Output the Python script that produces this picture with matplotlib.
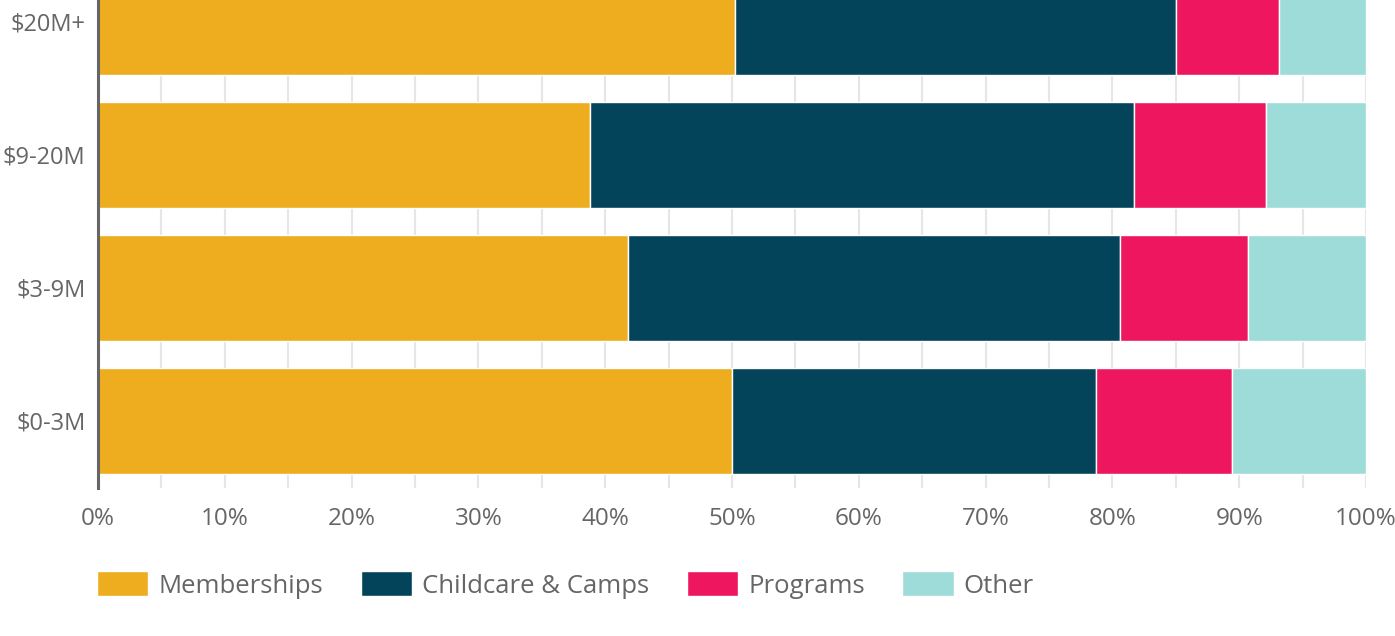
#!/usr/bin/env python3
"""
Revenue mix by organisation budget size, as 100% stacked horizontal bars.
"""

import matplotlib
matplotlib.use("Agg")
import matplotlib.pyplot as plt
import numpy as np

# Data (percent of total revenue)
categories = ["$0-3M", "$3-9M", "$9-20M", "$20M+"]
memberships = [50.0, 41.8, 38.8, 50.2]
childcare_camps = [28.7, 38.8, 42.9, 34.8]
programs = [10.7, 10.1, 10.4, 8.1]
other = [10.6, 9.3, 7.9, 6.9]

series_names = ["Memberships", "Childcare & Camps", "Programs", "Other"]
series_colors = ["#EEAD1E", "#03445A", "#EE165E", "#9DDCD8"]
tick_values = [0, 10, 20, 30, 40, 50, 60, 70, 80, 90, 100]
tick_labels = [f"{v}%" for v in tick_values]

TEXT_GRAY = "#666666"


def main():
    plt.rcParams["font.family"] = ["Open Sans", "DejaVu Sans"]

    fig = plt.figure(figsize=(13.95, 6.36), dpi=100)
    ax = fig.add_axes([98 / 1395, (636 - 488) / 636, (1366 - 98) / 1395, 488 / 636])

    y = np.arange(len(categories))
    left = np.zeros(len(categories))
    handles = []
    for name, values, color in zip(series_names,
                                   [memberships, childcare_camps, programs, other],
                                   series_colors):
        bars = ax.barh(y, values, left=left, height=0.8, color=color,
                       edgecolor="white", linewidth=1.0, label=name, zorder=3)
        handles.append(bars)
        left += np.array(values)

    ax.set_xlim(0, 100)
    ax.set_ylim(-0.504, 3.165)

    ax.set_xticks(tick_values)
    ax.set_xticklabels(tick_labels)
    ax.set_xticks(np.arange(5, 100, 10), minor=True)
    ax.set_yticks(y)
    ax.set_yticklabels(categories)

    ax.grid(True, axis="x", which="both", color="#E6E6E6", linewidth=1.5, zorder=0)
    ax.tick_params(axis="both", which="both", length=0, labelsize=17.5,
                   labelcolor=TEXT_GRAY)
    ax.tick_params(axis="x", pad=14)
    ax.tick_params(axis="y", pad=9, labelsize=17)

    for side in ["top", "right", "bottom"]:
        ax.spines[side].set_visible(False)
    ax.spines["left"].set_color(TEXT_GRAY)
    ax.spines["left"].set_linewidth(2.2)
    ax.spines["left"].set_zorder(4)

    leg = fig.legend(handles=handles, labels=series_names, ncol=4,
                     loc="center left", bbox_to_anchor=(97 / 1395, 1 - 585 / 636),
                     frameon=False, fontsize=18.5, handlelength=2.0,
                     handleheight=1.1, handletextpad=0.4, columnspacing=1.45,
                     borderaxespad=0, borderpad=0)
    for txt in leg.get_texts():
        txt.set_color(TEXT_GRAY)

    fig.savefig("out.png", dpi=100)


if __name__ == "__main__":
    main()
